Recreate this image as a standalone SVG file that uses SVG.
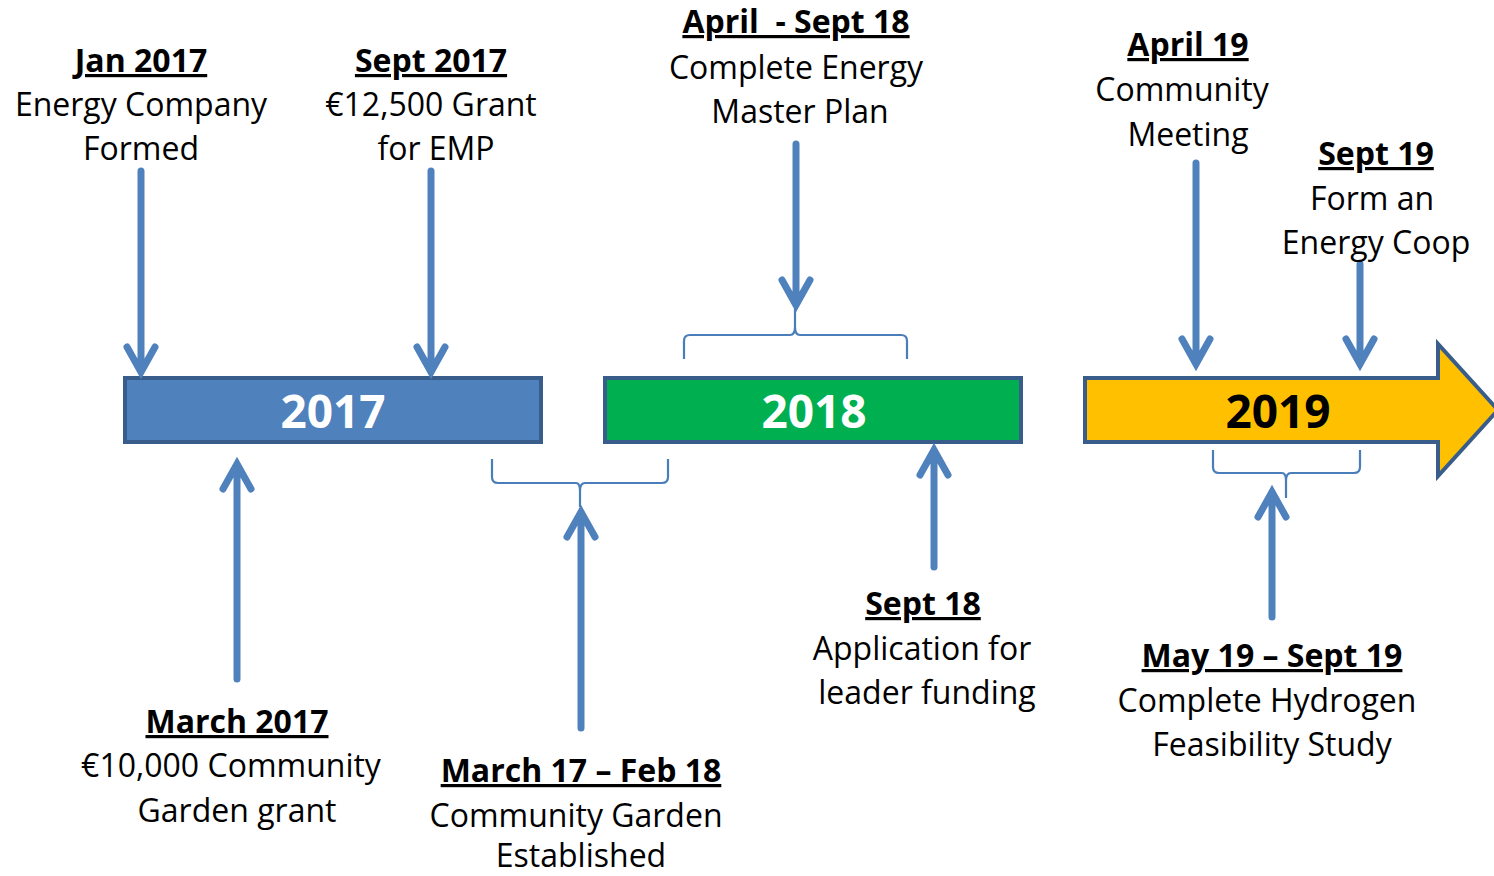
<svg xmlns="http://www.w3.org/2000/svg" width="1494" height="876" viewBox="0 0 1494 876">
<style>
.t{font-family:"Open Sans","Liberation Sans",sans-serif;font-size:32px;fill:#000;text-anchor:middle}
.h{font-weight:bold;text-decoration:underline}
.yr{font-family:"Open Sans","Liberation Sans",sans-serif;font-size:46px;font-weight:bold;text-anchor:middle}
.ar{fill:none;stroke:#4F81BD;stroke-width:7;stroke-linecap:round;stroke-linejoin:miter}
.br{fill:none;stroke:#4A7EBB;stroke-width:2.2}
</style>
<rect width="1494" height="876" fill="#fff"/>
<g id="year2017">
<rect x="125" y="378" width="416" height="64" fill="#4F81BD" stroke="#385D8A" stroke-width="4"/>
<text class="yr" x="333" y="428" fill="#fff">2017</text>
</g>
<g id="year2018">
<rect x="605" y="378" width="416" height="64" fill="#00B050" stroke="#385D8A" stroke-width="4"/>
<text class="yr" x="814" y="428" fill="#fff">2018</text>
</g>
<g id="year2019">
<path d="M1085,378 H1438 V344 L1498,410 L1438,476 V442 H1085 Z" fill="#FFC000" stroke="#385D8A" stroke-width="4" stroke-linejoin="miter"/>
<text class="yr" x="1278" y="428" fill="#000">2019</text>
</g>
<g id="connectors">
<path class="ar" d="M141,171 V372 M127,347 L141,372 L155,347"/>
<path class="ar" d="M431,171 V372 M417,347 L431,372 L445,347"/>
<path class="ar" d="M796,144 V305 M782,280 L796,305 L810,280"/>
<path class="ar" d="M1196,163 V364 M1182,339 L1196,364 L1210,339"/>
<path class="ar" d="M1360,264 V364 M1346,339 L1360,364 L1374,339"/>
<path class="ar" d="M237,679 V464 M223,489 L237,464 L251,489"/>
<path class="ar" d="M581,728 V512 M567,537 L581,512 L595,537"/>
<path class="ar" d="M934,567 V450 M920,475 L934,450 L948,475"/>
<path class="ar" d="M1272,617 V492 M1258,517 L1272,492 L1286,517"/>
<path class="br" d="M684,359 V341 Q684,335 690,335 H790 Q795,335 795,327 V309 M795,327 Q795,335 800,335 H901 Q907,335 907,341 V359"/>
<path class="br" d="M492,459 V477 Q492,483 498,483 H576 Q580,483 580,491 V507 M580,491 Q580,483 585,483 H662 Q668,483 668,477 V459"/>
<path class="br" d="M1213,450 V467 Q1213,473 1219,473 H1282 Q1286,473 1286,481 V498 M1286,481 Q1286,473 1291,473 H1354 Q1360,473 1360,467 V450"/>
</g>
<g id="jan2017">
<text class="t h" x="141" y="72">Jan 2017</text>
<text class="t" x="141" y="116">Energy Company</text>
<text class="t" x="141" y="160">Formed</text>
</g>
<g id="sept2017">
<text class="t h" x="431" y="72">Sept 2017</text>
<text class="t" x="431" y="116">€12,500 Grant</text>
<text class="t" x="436" y="160">for EMP</text>
</g>
<g id="aprsept18">
<text class="t h" x="796" y="33" xml:space="preserve">April  - Sept 18</text>
<text class="t" x="796" y="79">Complete Energy</text>
<text class="t" x="800" y="123">Master Plan</text>
</g>
<g id="april19">
<text class="t h" x="1188" y="56">April 19</text>
<text class="t" x="1182" y="101">Community</text>
<text class="t" x="1188" y="146">Meeting</text>
</g>
<g id="sept19">
<text class="t h" x="1376" y="165">Sept 19</text>
<text class="t" x="1372" y="210">Form an</text>
<text class="t" x="1376" y="254">Energy Coop</text>
</g>
<g id="march2017">
<text class="t h" x="237" y="733">March 2017</text>
<text class="t" x="231" y="777">€10,000 Community</text>
<text class="t" x="237" y="822">Garden grant</text>
</g>
<g id="mar17feb18">
<text class="t h" x="581" y="782">March 17 – Feb 18</text>
<text class="t" x="576" y="827">Community Garden</text>
<text class="t" x="581" y="867">Established</text>
</g>
<g id="sept18">
<text class="t h" x="923" y="615">Sept 18</text>
<text class="t" x="922" y="660">Application for</text>
<text class="t" x="927" y="704">leader funding</text>
</g>
<g id="may19sept19">
<text class="t h" x="1272" y="667">May 19 – Sept 19</text>
<text class="t" x="1267" y="712">Complete Hydrogen</text>
<text class="t" x="1272" y="756">Feasibility Study</text>
</g>
</svg>
